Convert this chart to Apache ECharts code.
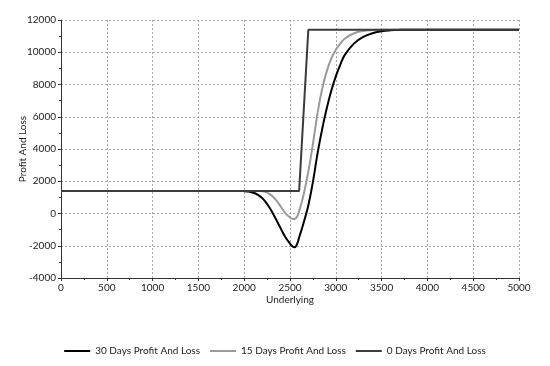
<!DOCTYPE html>
<html>
<head>
<meta charset="utf-8">
<script src="https://cdn.jsdelivr.net/npm/echarts@6/dist/echarts.min.js"></script>
<style>
html,body{margin:0;padding:0;background:#fff;}
#chart{width:550px;height:366px;}
</style>
</head>
<body>
<div id="chart"></div>
<script>
var seriesNames = ['30 Days Profit And Loss', '15 Days Profit And Loss', '0 Days Profit And Loss'];

var pnl30 = [
  [0,1400],[1900,1400],[1950,1398],[2000,1390],[2050,1360],[2100,1290],[2150,1160],[2200,940],
  [2250,590],[2300,140],[2350,-390],[2400,-940],[2450,-1470],[2500,-1870],[2525,-2030],[2550,-2100],
  [2575,-1920],[2600,-1480],[2625,-1030],[2650,-550],[2675,-50],[2700,500],[2750,1950],[2800,3700],
  [2850,5200],[2900,6500],[2950,7600],[3000,8500],[3050,9250],[3100,9850],[3200,10550],[3300,10950],
  [3400,11180],[3500,11300],[3600,11360],[3700,11390],[3800,11400],[5000,11400]
];

var pnl15 = [
  [0,1400],[2100,1400],[2150,1398],[2200,1380],[2250,1300],[2300,1120],[2350,820],[2400,420],
  [2450,20],[2500,-250],[2525,-330],[2550,-340],[2575,-220],[2600,150],[2650,1200],[2700,2600],
  [2750,4300],[2800,6200],[2850,7700],[2900,8800],[2950,9600],[3000,10150],[3050,10550],[3100,10850],
  [3200,11180],[3300,11320],[3400,11380],[3500,11400],[5000,11400]
];

var pnl0 = [
  [0,1400],[2600,1400],[2700,11400],[5000,11400]
];

var xMin = 0, xMax = 5000, xInterval = 500;
var yMin = -4000, yMax = 12000, yInterval = 2000;

var fontFamily = 'Lato, "DejaVu Sans", sans-serif';
var chart = echarts.init(document.getElementById('chart'), null, {renderer: 'canvas'});

var splitStyle = {show: true, lineStyle: {color: '#a8a8a8', type: [2, 2], width: 1}};
var plainLabel = function (v) { return String(v); };

chart.setOption({
  animation: false,
  backgroundColor: '#ffffff',
  grid: {left: 61, right: 31, top: 20, bottom: 88, containLabel: false},
  legend: {
    data: seriesNames,
    left: 'center',
    top: 341,
    icon: 'rect',
    itemWidth: 26,
    itemHeight: 2,
    itemGap: 10,
    textStyle: {fontFamily: fontFamily, fontSize: 10, color: '#222'}
  },
  xAxis: {
    type: 'value',
    min: xMin, max: xMax, interval: xInterval,
    name: 'Underlying',
    nameLocation: 'middle',
    nameGap: 17,
    nameMoveOverlap: false,
    nameTextStyle: {fontFamily: fontFamily, fontSize: 10, color: '#222'},
    axisLine: {show: true, onZero: false, lineStyle: {color: '#333', width: 1}},
    axisTick: {show: true, length: 3, lineStyle: {color: '#333'}},
    minorTick: {show: true, splitNumber: 2, length: 2, lineStyle: {color: '#333'}},
    axisLabel: {fontFamily: fontFamily, fontSize: 10, color: '#222', margin: 5, formatter: plainLabel},
    splitLine: splitStyle
  },
  yAxis: {
    type: 'value',
    min: yMin, max: yMax, interval: yInterval,
    name: 'Profit And Loss',
    nameLocation: 'middle',
    nameGap: 33,
    nameMoveOverlap: false,
    nameTextStyle: {fontFamily: fontFamily, fontSize: 10, color: '#222'},
    axisLine: {show: true, onZero: false, lineStyle: {color: '#333', width: 1}},
    axisTick: {show: true, length: 3, lineStyle: {color: '#333'}},
    minorTick: {show: true, splitNumber: 2, length: 2, lineStyle: {color: '#333'}},
    axisLabel: {fontFamily: fontFamily, fontSize: 10, color: '#222', margin: 5, formatter: plainLabel},
    splitLine: splitStyle
  },
  series: [
    {
      name: seriesNames[0], type: 'line', data: pnl30, symbol: 'none', showSymbol: false,
      smooth: 0.45,
      lineStyle: {color: '#000000', width: 2}, itemStyle: {color: '#000000'}, z: 3
    },
    {
      name: seriesNames[1], type: 'line', data: pnl15, symbol: 'none', showSymbol: false,
      smooth: 0.45,
      lineStyle: {color: '#9a9a9a', width: 2}, itemStyle: {color: '#9a9a9a'}, z: 2
    },
    {
      name: seriesNames[2], type: 'line', data: pnl0, symbol: 'none', showSymbol: false,
      lineStyle: {color: '#3c3c3c', width: 2}, itemStyle: {color: '#3c3c3c'}, z: 4
    }
  ]
});
</script>
</body>
</html>
